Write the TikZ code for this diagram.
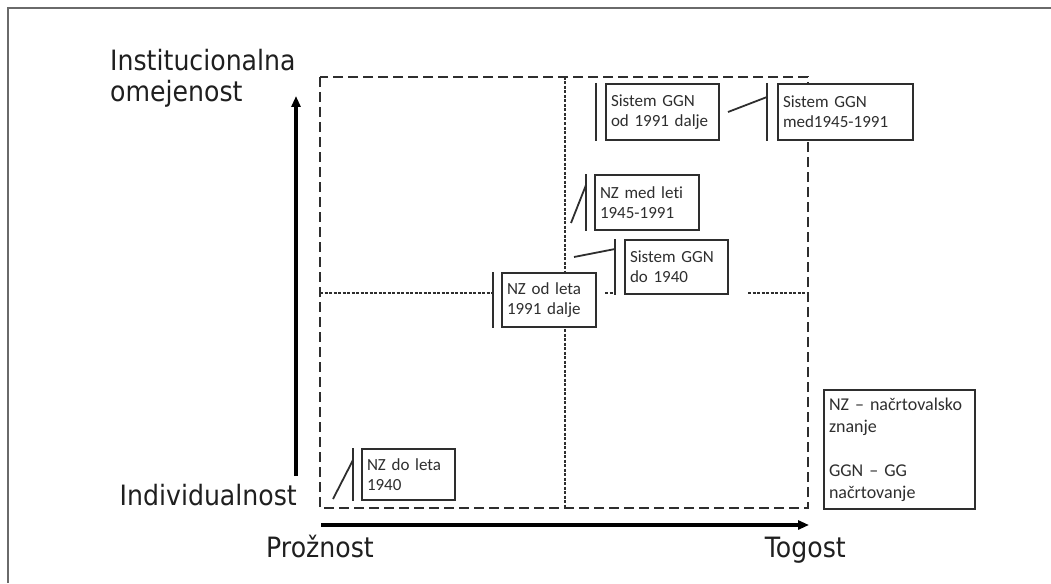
\documentclass[tikz,border=0pt]{standalone}
\usepackage{fontspec}
\setmainfont[Ligatures=NoCommon]{Carlito}
\newfontfamily\axisfont[FakeStretch=0.9]{DejaVu Sans}
\usepackage{xcolor}
\usetikzlibrary{arrows.meta}
\definecolor{inkgray}{HTML}{2E2E2E}
\definecolor{framegray}{HTML}{6A6A6A}

\begin{document}
\begin{tikzpicture}[x=1pt,y=-1pt,
        axisline/.style={line width=3.5pt,-{Triangle[length=11pt,width=9pt]}},
        axislabel/.style={font=\axisfont\fontsize{28}{28}\selectfont,text=black!88,inner sep=0pt},
        outerdash/.style={line width=2pt,inkgray,dash pattern=on 10pt off 5pt},
        innerdot/.style={line width=2pt,inkgray,dash pattern=on 3pt off 1.5pt},
        callbox/.style={draw=inkgray,line width=2pt,fill=white,text=inkgray,font=\fontsize{17}{20}\selectfont,align=left,anchor=north west,inner xsep=5pt,inner ysep=0pt},
        callbar/.style={line width=2pt,inkgray},
        leadline/.style={line width=1.8pt,inkgray}]
        \useasboundingbox (0,0) rectangle (1051,583);
        \draw[framegray,line width=1.5pt] (8,583) -- (8,8) -- (1051,8);
        % quadrants
        \draw[outerdash] (320,77) rectangle (808,508);
        \draw[innerdot] (565,77) -- (565,508);
        \draw[innerdot] (320,293) -- (493,293);
        \draw[innerdot] (605,293) -- (615,293);
        \draw[innerdot] (748,293) -- (808,293);
        % axes
        \coordinate (yfoot) at (296,476);
        \coordinate (ytip) at (296,96);
        \coordinate (xfoot) at (321,525);
        \coordinate (xtip) at (809,525);
        \draw[axisline] (yfoot) -- (ytip);
        \draw[axisline] (xfoot) -- (xtip);
        \node[axislabel,anchor=base west] (instlbl) at (110,71) {Institucionalna};
        \node[axislabel,anchor=base west] (omejlbl) at (110,102) {omejenost};
        \node[axislabel,anchor=base east] (indlbl) at (297,505) {Individualnost};
        \node[axislabel,anchor=base west] (prozlbl) at (266,557) {Prožnost};
        \node[axislabel,anchor=base east] (toglbl) at (846,557) {Togost};
        % boxes
        \node[callbox,text width=103pt,minimum height=56pt] (sgod) at (605,83) {Sistem GGN\\od 1991 dalje};
        \node[callbox,text width=125pt,minimum height=56pt] (sgmed) at (777,83) {Sistem GGN\\med1945-1991};
        \node[callbox,text width=94pt,minimum height=55pt] (nzmed) at (594,174) {NZ med leti\\1945-1991};
        \node[callbox,text width=93pt,minimum height=54pt] (sgdo) at (624,239) {Sistem GGN\\do 1940};
        \node[callbox,text width=84pt,minimum height=54pt] (nzod) at (501,272) {NZ od leta\\1991 dalje};
        \node[callbox,text width=83pt,minimum height=51pt] (nzdo) at (361,448) {NZ do leta\\1940};
        \node[callbox,text width=141pt,minimum height=119pt,font=\fontsize{18}{22}\selectfont] (legend) at (823,389) {NZ – načrtovalsko\\znanje\\[22pt]GGN – GG\\načrtovanje};
        % callout bars
        \draw[callbar] ([xshift=-9pt]sgod.north west) -- ([xshift=-9pt]sgod.south west);
        \draw[callbar] ([xshift=-10pt]sgmed.north west) -- ([xshift=-10pt]sgmed.south west);
        \draw[callbar] ([xshift=-8pt]nzmed.north west) -- ([xshift=-8pt]nzmed.south west);
        \draw[callbar] ([xshift=-9pt]sgdo.north west) -- ([xshift=-9pt]sgdo.south west);
        \draw[callbar] ([xshift=-8pt]nzod.north west) -- ([xshift=-8pt]nzod.south west);
        \draw[callbar] ([xshift=-8pt]nzdo.north west) -- ([xshift=-8pt]nzdo.south west);
        \coordinate (sgmedend) at (728,112);
        \coordinate (nzmedend) at (571,223);
        \coordinate (sgdoend) at (574,257);
        \coordinate (nzdoend) at (333,499);
        \draw[leadline] (sgmedend) -- ([xshift=-10pt,yshift=-14pt]sgmed.north west);
        \draw[leadline] (nzmedend) -- ([xshift=-8pt,yshift=-11pt]nzmed.north west);
        \draw[leadline] (sgdoend) -- ([xshift=-9pt,yshift=-10pt]sgdo.north west);
        \draw[leadline] (nzdoend) -- ([xshift=-8pt,yshift=-12pt]nzdo.north west);
\end{tikzpicture}
\end{document}
